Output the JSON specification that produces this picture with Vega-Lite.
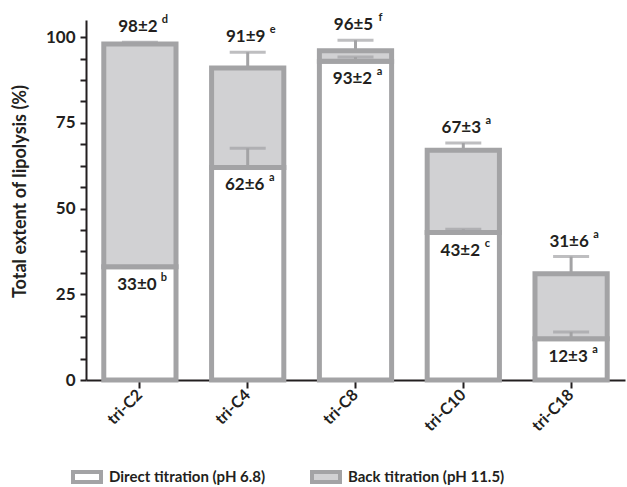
{
  "$schema": "https://vega.github.io/schema/vega-lite/v6.json",
  "width": 539,
  "height": 360,
  "autosize": {"type": "none"},
  "padding": {"left": 86, "top": 20, "right": 2, "bottom": 107},
  "background": "white",
  "config": {
    "font": "Lato",
    "view": {"stroke": null},
    "axis": {"grid": false, "domainColor": "#231f20", "domainWidth": 2, "tickColor": "#231f20", "tickWidth": 2, "labelColor": "#231f20", "labelFont": "Lato", "labelFontWeight": "bold", "labelFontSize": 17, "titleColor": "#231f20", "titleFont": "Lato", "titleFontWeight": "bold", "titleFontSize": 18},
    "legend": {"labelFont": "Lato", "labelFontWeight": "bold", "labelFontSize": 15, "labelColor": "#231f20", "labelLimit": 0}
  },
  "data": {
    "values": [
      {"compound": "tri-C2", "titration": "Direct titration (pH 6.8)", "from": 0, "to": 33, "errTop": 33, "label": "33±0", "letter": "b"},
      {"compound": "tri-C2", "titration": "Back titration (pH 11.5)", "from": 33, "to": 98, "errTop": 98.5, "label": "98±2", "letter": "d"},
      {"compound": "tri-C4", "titration": "Direct titration (pH 6.8)", "from": 0, "to": 62, "errTop": 67.6, "label": "62±6", "letter": "a"},
      {"compound": "tri-C4", "titration": "Back titration (pH 11.5)", "from": 62, "to": 91, "errTop": 95.6, "label": "91±9", "letter": "e"},
      {"compound": "tri-C8", "titration": "Direct titration (pH 6.8)", "from": 0, "to": 93, "errTop": 94.2, "label": "93±2", "letter": "a"},
      {"compound": "tri-C8", "titration": "Back titration (pH 11.5)", "from": 93, "to": 96, "errTop": 99.1, "label": "96±5", "letter": "f"},
      {"compound": "tri-C10", "titration": "Direct titration (pH 6.8)", "from": 0, "to": 43, "errTop": 44, "label": "43±2", "letter": "c"},
      {"compound": "tri-C10", "titration": "Back titration (pH 11.5)", "from": 43, "to": 67, "errTop": 69.1, "label": "67±3", "letter": "a"},
      {"compound": "tri-C18", "titration": "Direct titration (pH 6.8)", "from": 0, "to": 12, "errTop": 14, "label": "12±3", "letter": "a"},
      {"compound": "tri-C18", "titration": "Back titration (pH 11.5)", "from": 12, "to": 31, "errTop": 36, "label": "31±6", "letter": "a"}
    ]
  },
  "encoding": {
    "x": {
      "field": "compound", "type": "nominal", "sort": null,
      "scale": {"paddingInner": 0.33, "paddingOuter": 0.165},
      "axis": {"title": null, "labelAngle": -45, "labelAlign": "right", "labelBaseline": "middle", "tickSize": 8, "labelPadding": 4, "labelFontSize": 16}
    }
  },
  "layer": [
    {
      "mark": {"type": "bar", "stroke": "#a3a3a5", "strokeWidth": 5},
      "encoding": {
        "y": {
          "field": "from", "type": "quantitative",
          "scale": {"domain": [0, 105], "nice": false},
          "axis": {
            "title": "Total extent of lipolysis (%)",
            "titlePadding": 16,
            "titleY": 171,
            "values": [0, 6.25, 12.5, 18.75, 25, 31.25, 37.5, 43.75, 50, 56.25, 62.5, 68.75, 75, 81.25, 87.5, 93.75, 100],
            "tickCount": 40,
            "labelOverlap": false,
            "labelOpacity": {"condition": {"test": "datum.value % 25 !== 0", "value": 0}, "value": 1},
            "tickSize": 6,
            "labelPadding": 5
          }
        },
        "y2": {"field": "to"},
        "fill": {
          "field": "titration", "type": "nominal",
          "scale": {"domain": ["Direct titration (pH 6.8)", "Back titration (pH 11.5)"], "range": ["#ffffff", "#d1d1d3"]},
          "legend": {
            "title": null, "orient": "none", "direction": "horizontal", "columns": 2,
            "legendX": -11, "legendY": 445,
            "symbolType": "M-1.4,-0.5H1.4V0.5H-1.4Z", "symbolSize": 400,
            "symbolStrokeColor": "#a3a3a5", "symbolStrokeWidth": 4,
            "labelOffset": 10, "columnPadding": 38
          }
        }
      }
    },
    {
      "mark": {"type": "rule", "color": "#a3a3a5", "strokeWidth": 3},
      "encoding": {
        "y": {"field": "to", "type": "quantitative"},
        "y2": {"field": "errTop"}
      }
    },
    {
      "mark": {"type": "tick", "color": "#a3a3a5", "thickness": 3, "size": 36, "orient": "horizontal"},
      "encoding": {
        "y": {"field": "errTop", "type": "quantitative"}
      }
    },
    {
      "transform": [{"filter": "datum.from > 0"}],
      "mark": {"type": "text", "fontWeight": "bold", "fontSize": 17, "color": "#231f20", "dy": -15, "dx": -2, "baseline": "middle"},
      "encoding": {
        "y": {"field": "errTop", "type": "quantitative"},
        "text": {"field": "label"}
      }
    },
    {
      "transform": [{"filter": "datum.from > 0"}],
      "mark": {"type": "text", "fontWeight": "bold", "fontSize": 11, "color": "#231f20", "dy": -22, "dx": 25, "baseline": "middle"},
      "encoding": {
        "y": {"field": "errTop", "type": "quantitative"},
        "text": {"field": "letter"}
      }
    },
    {
      "transform": [{"filter": "datum.from == 0"}],
      "mark": {"type": "text", "fontWeight": "bold", "fontSize": 17, "color": "#231f20", "dy": 18, "dx": -3, "baseline": "middle"},
      "encoding": {
        "y": {"field": "to", "type": "quantitative"},
        "text": {"field": "label"}
      }
    },
    {
      "transform": [{"filter": "datum.from == 0"}],
      "mark": {"type": "text", "fontWeight": "bold", "fontSize": 11, "color": "#231f20", "dy": 11, "dx": 24, "baseline": "middle"},
      "encoding": {
        "y": {"field": "to", "type": "quantitative"},
        "text": {"field": "letter"}
      }
    }
  ]
}
